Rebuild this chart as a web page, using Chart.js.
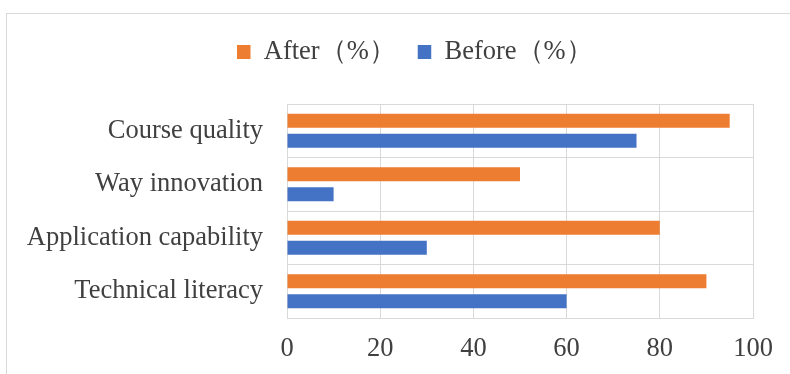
<!DOCTYPE html>
<html>
<head>
<meta charset="utf-8">
<script src="https://cdn.jsdelivr.net/npm/chart.js@4.4.0/dist/chart.umd.min.js"></script>
<style>
  html, body { margin: 0; padding: 0; background: #fff; overflow: hidden; }
  .frame { position: absolute; left: 6px; top: 13px; width: 820px; height: 400px; border: 1px solid #d9d9d9; }
  .wrap { position: absolute; left: 0; top: 0; width: 790px; height: 374px; }
</style>
</head>
<body>
<div class="frame"></div>
<div class="wrap"><canvas id="myChart" width="790" height="374"></canvas></div>
<script>
const categories = ["Course quality", "Way innovation", "Application capability", "Technical literacy"];
const afterValues = [95, 50, 80, 90];
const beforeValues = [75, 10, 30, 60];
const seriesNames = ["After（%）", "Before（%）"];
const xTicks = [0, 20, 40, 60, 80, 100];

const textColor = "#404040";
const gridColor = "#d9d9d9";
const serif = "'Liberation Serif', 'Times New Roman', serif";

// move the legend row to where it sits in the picture (it is not centred on the canvas)
const placeLegend = {
  id: "placeLegend",
  afterLayout(chart) {
    const lg = chart.legend;
    if (!lg || lg._placed) return;
    const draw = lg.draw.bind(lg);
    lg.draw = function () {
      const ctx = chart.ctx;
      const pad = lg.options.labels.padding;
      ctx.save();
      ctx.translate(237 - (lg.left + pad), 38.75 - (lg.top + pad));
      draw();
      ctx.restore();
    };
    lg._placed = true;
  }
};

const ctx = document.getElementById("myChart").getContext("2d");
const myChart = new Chart(ctx, {
  type: "bar",
  data: {
    labels: categories,
    datasets: [
      { label: seriesNames[0], data: afterValues, backgroundColor: "#ed7d31", borderWidth: 0 },
      { label: seriesNames[1], data: beforeValues, backgroundColor: "#4472c4", borderWidth: 0 }
    ]
  },
  options: {
    indexAxis: "y",
    responsive: false,
    animation: false,
    categoryPercentage: 0.75,
    barPercentage: 0.7,
    layout: { padding: { left: 0, right: 37, top: 45.5, bottom: 0 } },
    plugins: {
      tooltip: { enabled: false },
      legend: {
        position: "top",
        align: "start",
        labels: {
          color: textColor,
          font: { family: serif, size: 26.5 },
          boxWidth: 13.5,
          boxHeight: 14,
          padding: 22
        }
      }
    },
    scales: {
      x: {
        min: 0,
        max: 100,
        afterBuildTicks: (scale) => { scale.ticks = xTicks.map(v => ({ value: v })); },
        afterFit: (scale) => { scale.height = 56; },
        grid: { color: gridColor, drawTicks: false },
        border: { color: gridColor },
        ticks: { color: textColor, font: { family: serif, size: 26.5 }, padding: 15 }
      },
      y: {
        afterFit: (scale) => { scale.width = 287; },
        grid: { color: gridColor, drawTicks: false, offset: true },
        border: { color: gridColor },
        ticks: { color: textColor, font: { family: serif, size: 26.5 }, padding: 24 }
      }
    }
  },
  plugins: [placeLegend]
});
</script>
</body>
</html>
